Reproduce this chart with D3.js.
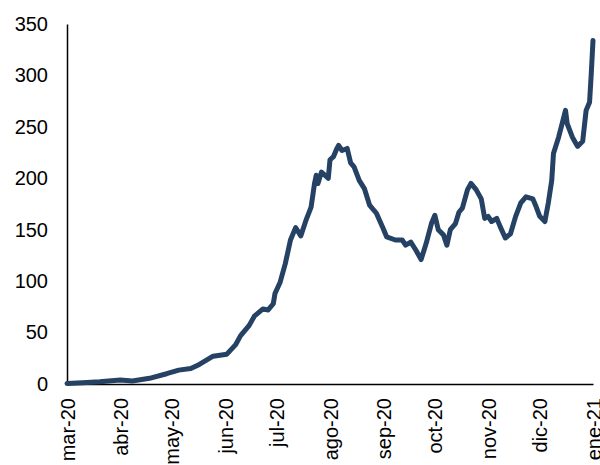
<!DOCTYPE html>
<html>
<head>
<meta charset="utf-8">
<script src="https://cdn.jsdelivr.net/npm/d3@7"></script>
<style>
  html, body { margin: 0; padding: 0; background: #fff; }
  svg { display: block; }
  text { font-family: "Liberation Sans", Arial, sans-serif; fill: #000; }
</style>
</head>
<body>
<svg id="chart" width="600" height="465"></svg>
<script>
// ---- data ----
const dates = [
  "2020-03-01","2020-03-10","2020-03-20","2020-04-01","2020-04-08","2020-04-18","2020-04-28",
  "2020-05-05","2020-05-12","2020-05-17","2020-05-25","2020-06-02","2020-06-07","2020-06-10",
  "2020-06-15","2020-06-18","2020-06-23","2020-06-26","2020-06-29","2020-06-30","2020-07-03",
  "2020-07-06","2020-07-09","2020-07-12","2020-07-15","2020-07-18","2020-07-21","2020-07-23",
  "2020-07-24","2020-07-25","2020-07-27","2020-07-29","2020-07-31","2020-08-01","2020-08-03",
  "2020-08-05","2020-08-06","2020-08-08","2020-08-11","2020-08-13","2020-08-15","2020-08-18",
  "2020-08-21","2020-08-24","2020-08-28","2020-09-01","2020-09-03","2020-09-08","2020-09-12",
  "2020-09-14","2020-09-17","2020-09-20","2020-09-23","2020-09-26","2020-09-29","2020-10-01",
  "2020-10-03","2020-10-06","2020-10-08","2020-10-10","2020-10-13","2020-10-15","2020-10-17",
  "2020-10-20","2020-10-22","2020-10-25","2020-10-28","2020-10-30","2020-11-01","2020-11-03",
  "2020-11-06","2020-11-08","2020-11-11","2020-11-14","2020-11-17","2020-11-20","2020-11-23",
  "2020-11-27","2020-11-29","2020-12-01","2020-12-04","2020-12-06","2020-12-08","2020-12-09",
  "2020-12-12","2020-12-14","2020-12-16","2020-12-17","2020-12-20","2020-12-21","2020-12-23",
  "2020-12-26","2020-12-28","2020-12-30","2020-12-31","2021-01-01"
];
const values = [
  0.5, 1.2, 2.2, 3.9, 3.0, 5.5, 10,
  13.5, 15, 19, 27, 29, 38, 47,
  57, 66, 73, 72, 78, 88, 99,
  117, 140, 152, 144, 159, 172, 195,
  203, 195, 206, 203, 200, 218, 221,
  229, 232, 227, 229, 215, 211, 198,
  190, 174, 166, 151, 143, 140, 140,
  135, 138, 130, 121, 137, 156, 164,
  150, 145, 135, 150, 156, 167, 171,
  189, 195, 189, 180, 161, 163, 158,
  161, 153, 142, 146, 163, 176, 182,
  180, 172, 163, 158, 176, 198, 224,
  240, 253, 266, 253, 240, 237, 231,
  236, 266, 274, 302, 334
];
const yTicks = [0, 50, 100, 150, 200, 250, 300, 350];
const monthTicks = ["2020-03-01","2020-04-01","2020-05-01","2020-06-01","2020-07-01","2020-08-01",
                    "2020-09-01","2020-10-01","2020-11-01","2020-12-01","2021-01-01"];
const monthLabels = ["mar-20","abr-20","may-20","jun-20","jul-20","ago-20","sep-20","oct-20","nov-20","dic-20","ene-21"];

// ---- layout ----
const parse = d3.utcParse("%Y-%m-%d");
const mLeft = 67, mRight = 593, mTop = 24, mBottom = 384;
const svg = d3.select("#chart");

const x = d3.scaleUtc()
  .domain([parse("2020-03-01"), parse("2021-01-01")])
  .range([mLeft, mRight]);
const y = d3.scaleLinear().domain([0, 350]).range([mBottom, mTop]);

const pts = dates.map((d, i) => ({ date: parse(d), v: values[i] }));

// y axis
const yAxis = svg.append("g")
  .attr("transform", `translate(${mLeft},0)`)
  .call(d3.axisLeft(y).tickValues(yTicks).tickSize(0).tickPadding(19).tickFormat(d3.format("d")));
yAxis.select(".domain").attr("stroke", "#000").attr("stroke-width", 1.5);
yAxis.selectAll("text").style("font-size", "20px").attr("fill", "#000");

// x axis
const xAxis = svg.append("g")
  .attr("transform", `translate(0,${mBottom})`)
  .call(d3.axisBottom(x).tickValues(monthTicks.map(parse)).tickSize(0)
        .tickFormat((d, i) => monthLabels[i]));
xAxis.select(".domain").attr("stroke", "#000").attr("stroke-width", 1.5);
xAxis.selectAll("text")
  .style("font-size", "20px")
  .attr("fill", "#000")
  .attr("text-anchor", "end")
  .attr("transform", "translate(0,14) rotate(-90)")
  .attr("x", 0).attr("y", 0).attr("dy", "0.35em");

// line
const line = d3.line().x(d => x(d.date)).y(d => y(d.v));
svg.append("path")
  .datum(pts)
  .attr("d", line)
  .attr("fill", "none")
  .attr("stroke", "#254163")
  .attr("stroke-width", 5)
  .attr("stroke-linejoin", "round")
  .attr("stroke-linecap", "round");
</script>
</body>
</html>
